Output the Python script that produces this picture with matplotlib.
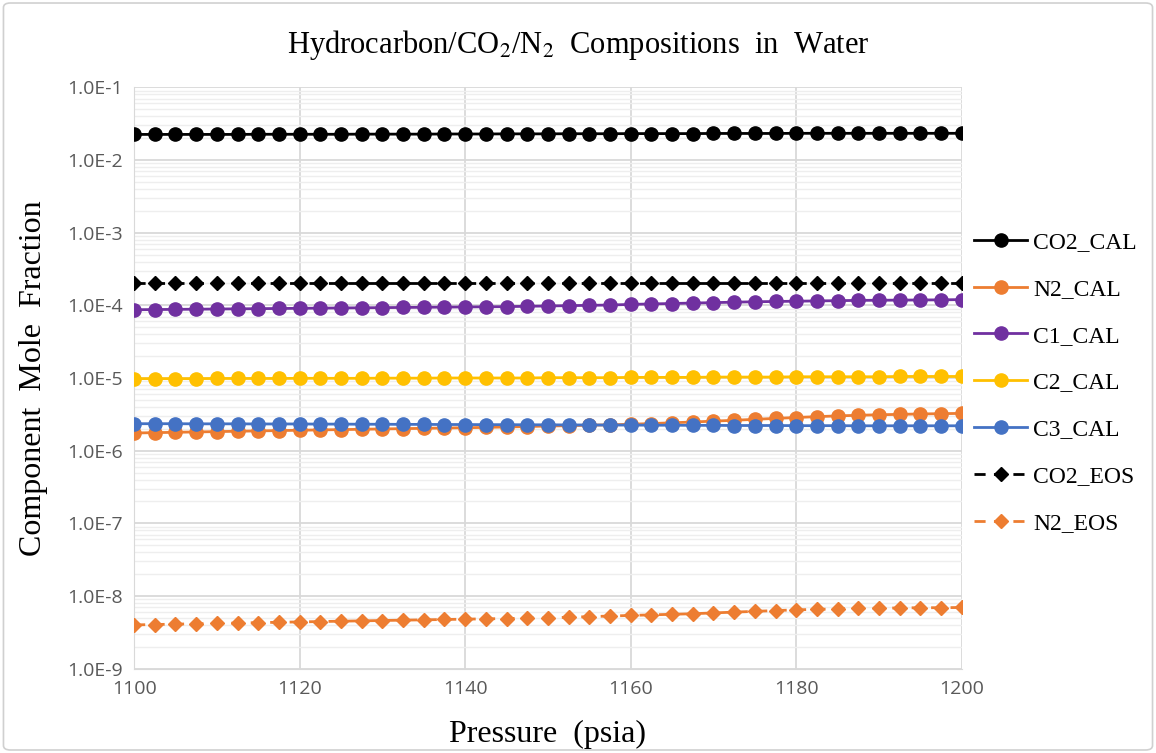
import math
import matplotlib
matplotlib.use("Agg")
import matplotlib.pyplot as plt
from matplotlib.ticker import FuncFormatter, LogLocator, MultipleLocator
from matplotlib.patches import FancyBboxPatch

# pressions (psia), un point tous les 2.5
pression = [1100 + 2.5 * i for i in range(41)]

co2_cal = [0.0225, 0.0225, 0.0225, 0.0225, 0.0225, 0.0225, 0.0226, 0.0226, 0.0226, 0.0226,
           0.0226, 0.0227, 0.0227, 0.0227, 0.0227, 0.0228, 0.0228, 0.0228, 0.0229, 0.0229,
           0.0229, 0.0230, 0.0230, 0.0230, 0.0231, 0.0231, 0.0231, 0.0231, 0.0232, 0.0232,
           0.0232, 0.0232, 0.0233, 0.0233, 0.0233, 0.0233, 0.0233, 0.0233, 0.0233, 0.0233, 0.0233]

n2_cal = [1.75e-6, 1.77e-6, 1.79e-6, 1.81e-6, 1.83e-6, 1.85e-6, 1.87e-6, 1.89e-6, 1.91e-6, 1.93e-6,
          1.95e-6, 1.97e-6, 1.99e-6, 2.01e-6, 2.03e-6, 2.05e-6, 2.07e-6, 2.09e-6, 2.12e-6, 2.15e-6,
          2.18e-6, 2.21e-6, 2.24e-6, 2.27e-6, 2.31e-6, 2.36e-6, 2.42e-6, 2.48e-6, 2.55e-6, 2.62e-6,
          2.70e-6, 2.78e-6, 2.86e-6, 2.94e-6, 3.01e-6, 3.07e-6, 3.12e-6, 3.16e-6, 3.20e-6, 3.23e-6, 3.26e-6]

c1_cal = [8.7e-5, 8.75e-5, 8.8e-5, 8.85e-5, 8.9e-5, 8.95e-5, 9.0e-5, 9.05e-5, 9.1e-5, 9.15e-5,
          9.2e-5, 9.25e-5, 9.3e-5, 9.35e-5, 9.4e-5, 9.45e-5, 9.5e-5, 9.55e-5, 9.6e-5, 9.7e-5,
          9.8e-5, 9.9e-5, 1.0e-4, 1.01e-4, 1.03e-4, 1.045e-4, 1.06e-4, 1.075e-4, 1.09e-4, 1.105e-4,
          1.12e-4, 1.13e-4, 1.14e-4, 1.15e-4, 1.16e-4, 1.17e-4, 1.175e-4, 1.18e-4, 1.185e-4, 1.19e-4, 1.2e-4]

c2_cal = [9.8e-6, 9.8e-6, 9.8e-6, 9.8e-6, 9.85e-6, 9.85e-6, 9.85e-6, 9.85e-6, 9.9e-6, 9.9e-6,
          9.9e-6, 9.9e-6, 9.95e-6, 9.95e-6, 9.95e-6, 1.0e-5, 1.0e-5, 1.0e-5, 1.0e-5, 1.0e-5,
          1.01e-5, 1.01e-5, 1.01e-5, 1.01e-5, 1.02e-5, 1.02e-5, 1.02e-5, 1.02e-5, 1.03e-5, 1.03e-5,
          1.03e-5, 1.03e-5, 1.04e-5, 1.04e-5, 1.04e-5, 1.04e-5, 1.04e-5, 1.05e-5, 1.05e-5, 1.05e-5, 1.05e-5]

c3_cal = [2.35e-6, 2.35e-6, 2.35e-6, 2.34e-6, 2.34e-6, 2.34e-6, 2.33e-6, 2.33e-6, 2.33e-6, 2.32e-6,
          2.32e-6, 2.31e-6, 2.31e-6, 2.30e-6, 2.30e-6, 2.29e-6, 2.29e-6, 2.28e-6, 2.28e-6, 2.27e-6,
          2.27e-6, 2.26e-6, 2.26e-6, 2.25e-6, 2.25e-6, 2.24e-6, 2.24e-6, 2.23e-6, 2.23e-6, 2.22e-6,
          2.22e-6, 2.22e-6, 2.21e-6, 2.21e-6, 2.21e-6, 2.20e-6, 2.20e-6, 2.20e-6, 2.20e-6, 2.20e-6, 2.20e-6]

co2_eos = [2.0e-4] * 41

n2_eos = [4.0e-9, 4.05e-9, 4.1e-9, 4.15e-9, 4.2e-9, 4.25e-9, 4.3e-9, 4.35e-9, 4.4e-9, 4.45e-9,
          4.5e-9, 4.55e-9, 4.6e-9, 4.65e-9, 4.7e-9, 4.75e-9, 4.8e-9, 4.85e-9, 4.9e-9, 4.95e-9,
          5.0e-9, 5.1e-9, 5.2e-9, 5.3e-9, 5.4e-9, 5.5e-9, 5.6e-9, 5.7e-9, 5.85e-9, 6.0e-9,
          6.15e-9, 6.3e-9, 6.45e-9, 6.55e-9, 6.65e-9, 6.75e-9, 6.8e-9, 6.85e-9, 6.9e-9, 6.9e-9, 6.95e-9]

noms = ["CO2_CAL", "N2_CAL", "C1_CAL", "C2_CAL", "C3_CAL", "CO2_EOS", "N2_EOS"]

NOIR = "#000000"
ORANGE = "#ED7D31"
VIOLET = "#7030A0"
JAUNE = "#FFC000"
BLEU = "#4472C4"

fig = plt.figure(figsize=(11.56, 7.53), dpi=100)
ax = fig.add_axes([0.116, 0.112, 0.716, 0.772])

# cadre gris autour de la figure
cadre = FancyBboxPatch((0.003, 0.004), 0.994, 0.992, boxstyle="round,pad=0,rounding_size=0.006",
                       transform=fig.transFigure, fill=False, edgecolor="#D0D0D0", lw=1.2)
fig.patches.append(cadre)

# courbes pleines avec ronds
ax.plot(pression, co2_cal, "-o", color=NOIR, lw=2, ms=9.5, label=noms[0], zorder=5)
ax.plot(pression, n2_cal, "-o", color=ORANGE, lw=2, ms=9.5, label=noms[1], zorder=3)
ax.plot(pression, c1_cal, "-o", color=VIOLET, lw=2, ms=9.5, label=noms[2], zorder=4)
ax.plot(pression, c2_cal, "-o", color=JAUNE, lw=2, ms=9.5, label=noms[3], zorder=4)
ax.plot(pression, c3_cal, "-o", color=BLEU, lw=2, ms=9.5, label=noms[4], zorder=4)
# courbes en tirets avec losanges
ax.plot(pression, co2_eos, "D", ls=(0, (4, 3)), color=NOIR, lw=2, ms=7, label=noms[5], zorder=5)
ax.plot(pression, n2_eos, "D", ls=(0, (4, 3)), color=ORANGE, lw=2, ms=7, label=noms[6], zorder=5)

ax.set_yscale("log")
ax.set_ylim(1e-9, 1e-1)
ax.set_xlim(1100, 1200)
ax.xaxis.set_major_locator(MultipleLocator(20))
ax.yaxis.set_major_locator(LogLocator(base=10, numticks=20))
ax.yaxis.set_minor_locator(LogLocator(base=10, subs=range(2, 10), numticks=20))
ax.yaxis.set_major_formatter(FuncFormatter(lambda v, p: "1.0E%d" % round(math.log10(v))))

ax.grid(which="major", color="#D9D9D9", lw=1.3)
ax.grid(which="minor", axis="y", color="#EEEEEE", lw=1.0)
ax.set_axisbelow(True)
for s in ["top", "right"]:
    ax.spines[s].set_visible(False)
ax.spines["left"].set_color("#D9D9D9")
ax.spines["bottom"].set_color("#D9D9D9")
ax.tick_params(which="both", length=0, labelsize=14, labelcolor="#595959", pad=8)
for lab in ax.get_xticklabels() + ax.get_yticklabels():
    lab.set_family("Open Sans")

ax.set_xlabel("Pressure  (psia)", family="Liberation Serif", fontsize=23, labelpad=16)
ax.set_ylabel("Component  Mole  Fraction", family="Liberation Serif", fontsize=23, labelpad=14)
fig.text(0.5, 0.94, "Hydrocarbon/CO$_2$/N$_2$  Compositions  in  Water", ha="center",
         va="center", family="Liberation Serif", fontsize=22, math_fontfamily="stix")

leg = ax.legend(loc="upper left", bbox_to_anchor=(1.015, 0.752), frameon=False,
                prop={"family": "Liberation Serif", "size": 17}, labelspacing=1.07,
                handlelength=2.25, handletextpad=0.25, borderpad=0, borderaxespad=0)

fig.savefig("out.png", dpi=100)
